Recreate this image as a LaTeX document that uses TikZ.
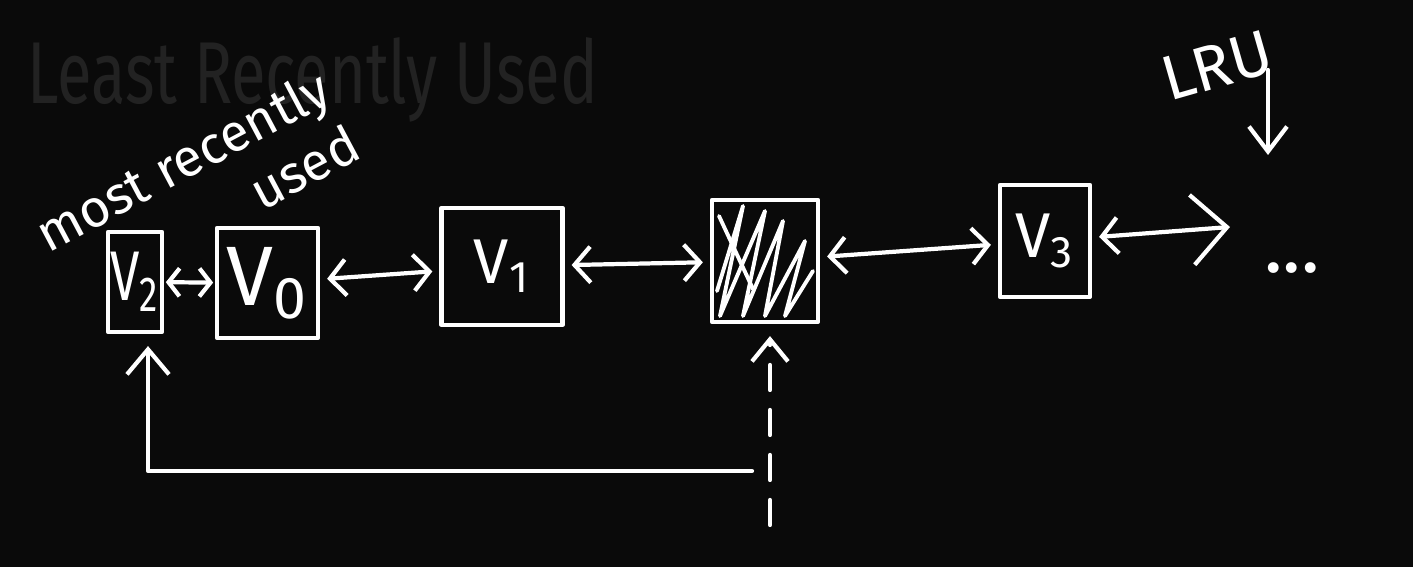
\documentclass[tikz,border=0pt]{standalone}
\usepackage{fontspec}
\setmainfont{Fira Sans}
\usetikzlibrary{arrows.meta}

\definecolor{board}{RGB}{10,10,10}
\definecolor{ghost}{RGB}{34,34,34}

\begin{document}
\begin{tikzpicture}[
        yscale=-1,
        every node/.style={text=white},
        box/.style={
            rectangle,
            draw=white,
            line width=1.2pt,
            line join=round,
            inner sep=0pt
        },
        hatch/.style={
            draw=white,
            line width=1.1pt,
            line join=round,
            line cap=round
        },
        line/.style={
            draw=white,
            line width=1.2pt,
            line cap=round,
            line join=round,
            {Straight Barb[length=1.6mm,width=3.6mm]}-{Straight Barb[length=1.6mm,width=3.6mm]},
            shorten <=2pt,
            shorten >=2pt
        },
        short/.style={
            line,
            {Straight Barb[length=1.1mm,width=2.8mm]}-{Straight Barb[length=1.1mm,width=2.8mm]},
            shorten <=0.5pt,
            shorten >=0.5pt
        },
        ]

        \fill [board] (0,0) rectangle (14.13,5.67);
        \useasboundingbox (0,0) rectangle (14.13,5.67);

        \node [text=ghost,anchor=base west,font=\fontsize{25}{30}\selectfont] (title) at (0.15,1.04) {\scalebox{0.72}[1]{Least Recently Used}};
        \node [rotate=28,align=right,font=\fontsize{15}{18}\selectfont] (mru) at (1.97,1.88) {most recently\\used};
        \node [rotate=16,font=\fontsize{18}{22}\selectfont] (lru) at (12.17,0.66) {LRU};

        \node [box,minimum width=0.54cm,minimum height=1.00cm,font=\fontsize{20}{24}\selectfont] (v2) at (1.35,2.82) {\scalebox{0.75}[1]{V\textsubscript{2}}};
        \node [box,minimum width=1.01cm,minimum height=1.10cm,font=\fontsize{24}{28}\selectfont] (v0) at (2.675,2.83) {V\textsubscript{0}};
        \node [box,minimum width=1.21cm,minimum height=1.17cm,font=\fontsize{18}{22}\selectfont] (v1) at (5.02,2.665) {V\textsubscript{1}};
        \node [box,minimum width=1.06cm,minimum height=1.22cm] (slot) at (7.65,2.61) {};
        \node [box,minimum width=0.90cm,minimum height=1.12cm,font=\fontsize{18}{22}\selectfont] (v3) at (10.45,2.41) {V\textsubscript{3}};
        \node [font=\fontsize{22}{24}\selectfont] (dots) at (12.92,2.68) {...};

        % scribble inside the empty slot
        \draw [hatch] ([shift={(-0.48,0.30)}]slot.center) -- ([shift={(-0.22,-0.55)}]slot.center)
            -- ([shift={(-0.45,0.55)}]slot.center) -- ([shift={(0.00,-0.50)}]slot.center)
            -- ([shift={(-0.22,0.55)}]slot.center) -- ([shift={(0.18,-0.40)}]slot.center)
            -- ([shift={(0.00,0.55)}]slot.center) -- ([shift={(0.40,-0.20)}]slot.center)
            -- ([shift={(0.20,0.55)}]slot.center) -- ([shift={(0.48,0.10)}]slot.center);
        \draw [hatch] ([shift={(-0.46,-0.45)}]slot.center) -- ([shift={(-0.12,0.28)}]slot.center);

        \coordinate (tail) at (12.30,2.27);
        \coordinate (lru-top) at (12.68,0.70);
        \coordinate (lru-end) at (12.68,1.55);
        \coordinate (miss) at (7.70,5.25);
        \coordinate (reuse) at (7.52,4.71);

        \path [short] (v2) -- (v0);
        \path [line] (v0) -- (v1);
        \path [line] (v1) -- (slot);
        \path [line] (slot) -- (v3);
        \path [line,{Straight Barb[length=1.6mm,width=3.6mm]}-{Straight Barb[length=3.5mm,width=7mm]},shorten >=0pt] (v3) -- (tail);
        \path [line,-{Straight Barb[length=2.5mm,width=3.8mm]},shorten <=0pt,shorten >=0pt] (lru-top) -- (lru-end);
        \path [line,-{Straight Barb[length=2.2mm,width=3.6mm]},dash pattern=on 0.25cm off 0.2cm,shorten <=0pt,shorten >=0.12cm] (miss) -- (slot.south -| miss);
        \path [line,-{Straight Barb[length=2.5mm,width=4.2mm]},shorten <=0pt,shorten >=0.12cm] (reuse) -| ([xshift=1.3mm]v2.south);
    \end{tikzpicture}
\end{document}
